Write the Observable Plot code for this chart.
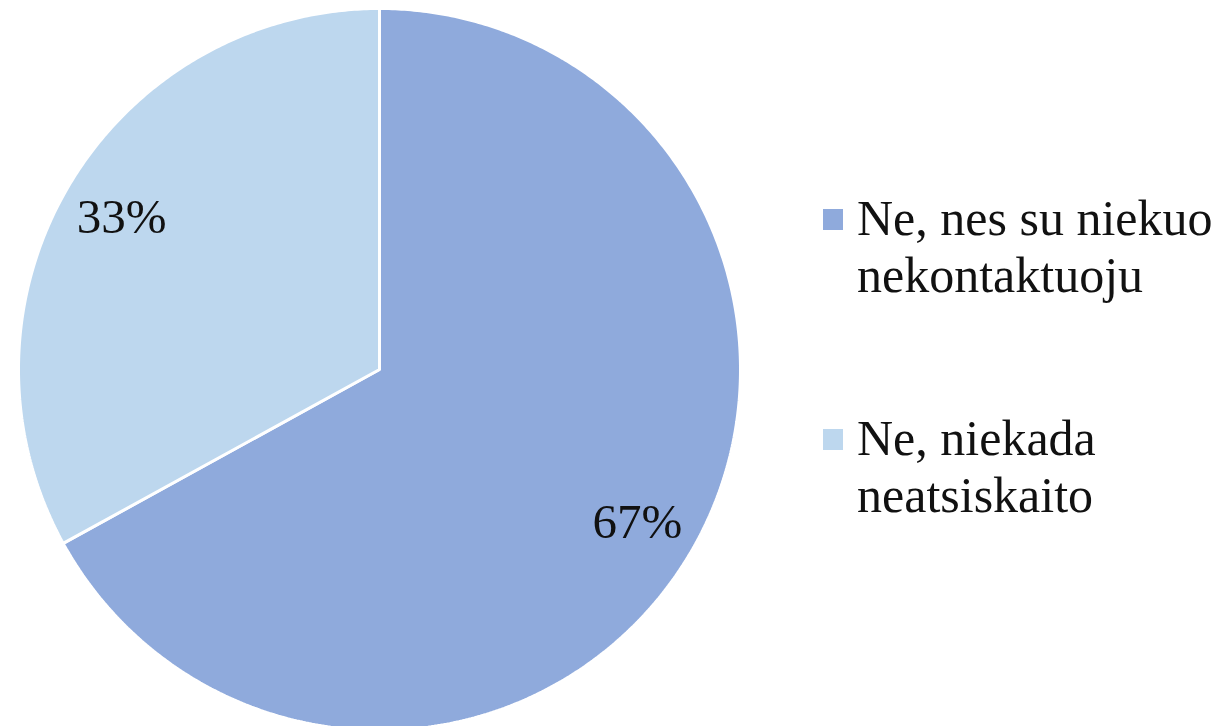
<!DOCTYPE html>
<html>
<head>
<meta charset="utf-8">
<script src="https://cdn.jsdelivr.net/npm/d3@7"></script>
<script src="https://cdn.jsdelivr.net/npm/@observablehq/plot@0.6"></script>
<style>
  html, body { margin: 0; padding: 0; background: #fff; }
  #wrap { position: relative; width: 1219px; height: 727px; overflow: hidden; }
  #chart { position: absolute; left: 0; top: 0; }
  #chart svg { display: block; }
  .legend { position: absolute; left: 823px; top: 0; font-family: "Liberation Serif", "Times New Roman", serif; font-size: 50px; line-height: 57px; color: #111; }
  .legend .item { position: absolute; left: 0; white-space: nowrap; }
  .legend .sw { position: absolute; left: 0; width: 20px; height: 21px; }
  .legend .tx { position: absolute; left: 34px; top: 0; }
</style>
</head>
<body>
<div id="wrap">
  <div id="chart"></div>
  <div class="legend" id="legend"></div>
</div>
<script>
const categories = ["Ne, nes su niekuo nekontaktuoju", "Ne, niekada neatsiskaito"];
const legendLines = [["Ne, nes su niekuo", "nekontaktuoju"], ["Ne, niekada", "neatsiskaito"]];
const values = [67, 33];
const labels = ["67%", "33%"];
const colors = ["#8FAADC", "#BDD7EE"];

const W = 1219, H = 727;
const cx = 379, cy = 369, R = 361, labelR = 0.83 * R;

const arcs = d3.pie().sort(null).value(d => d)(values);

function pt(a, r) { return [cx + r * Math.sin(a), cy - r * Math.cos(a)]; }

const features = arcs.map((a, i) => {
  const ring = [[cx, cy]];
  const n = Math.max(8, Math.ceil((a.endAngle - a.startAngle) / (Math.PI / 360)));
  for (let k = 0; k <= n; k++) {
    ring.push(pt(a.startAngle + (a.endAngle - a.startAngle) * k / n, R));
  }
  ring.push([cx, cy]);
  return {type: "Feature", properties: {category: categories[i]}, geometry: {type: "Polygon", coordinates: [ring]}};
});

const labelData = arcs.map((a, i) => {
  const m = (a.startAngle + a.endAngle) / 2;
  const [x, y] = pt(m, labelR);
  return {x, y, text: labels[i]};
});

const chart = Plot.plot({
  width: W,
  height: H,
  margin: 0,
  projection: {type: "identity"},
  color: {domain: categories, range: colors},
  style: {background: "white"},
  marks: [
    Plot.geo(features, {fill: d => d.properties.category, stroke: "white", strokeWidth: 3, strokeLinejoin: "miter"}),
    Plot.text(labelData, {x: "x", y: "y", text: "text", fontSize: 49, fontFamily: "'Liberation Serif', 'Times New Roman', serif", fill: "#111", textAnchor: "middle", lineAnchor: "middle"})
  ]
});
document.getElementById("chart").appendChild(chart);

const colorScale = chart.scale("color");
const leg = document.getElementById("legend");
const tops = [190, 410];
categories.forEach((c, i) => {
  const item = document.createElement("div");
  item.className = "item";
  item.style.top = tops[i] + "px";
  const sw = document.createElement("div");
  sw.className = "sw";
  sw.style.top = "19px";
  sw.style.background = colorScale.apply(c);
  const tx = document.createElement("div");
  tx.className = "tx";
  tx.innerHTML = legendLines[i].join("<br>");
  item.appendChild(sw);
  item.appendChild(tx);
  leg.appendChild(item);
});
</script>
</body>
</html>
